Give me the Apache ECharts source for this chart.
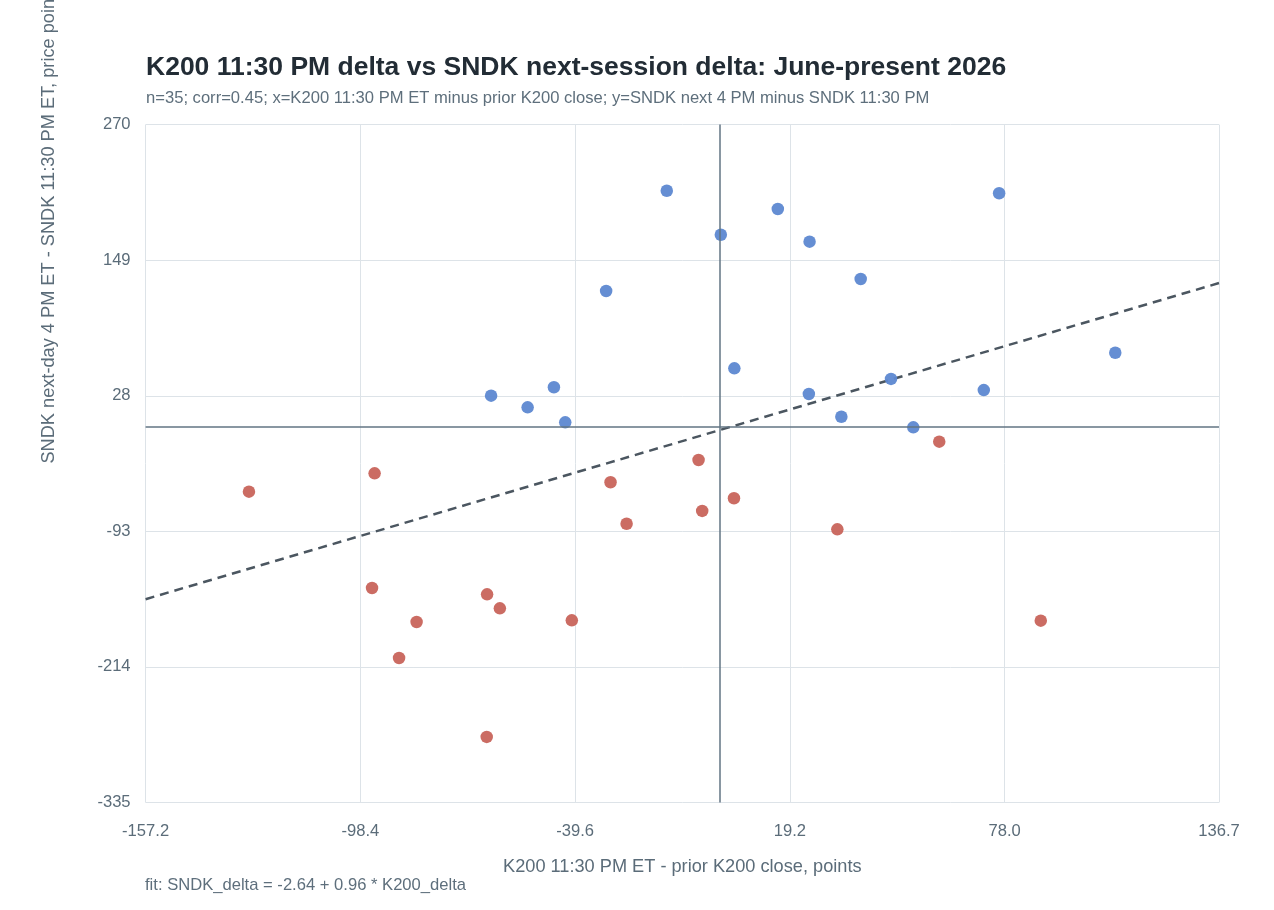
<!DOCTYPE html>
<html>
<head>
<meta charset="utf-8">
<script src="https://cdn.jsdelivr.net/npm/echarts@6/dist/echarts.min.js"></script>
<style>
html,body{margin:0;padding:0;background:#fff;}
#chart{width:1274px;height:910px;}
</style>
</head>
<body>
<div id="chart"></div>
<script>
// ---- data ----
const titleText = 'K200 11:30 PM delta vs SNDK next-session delta: June-present 2026';
const subText = 'n=35; corr=0.45; x=K200 11:30 PM ET minus prior K200 close; y=SNDK next 4 PM minus SNDK 11:30 PM';
const xName = 'K200 11:30 PM ET - prior K200 close, points';
const yName = 'SNDK next-day 4 PM ET - SNDK 11:30 PM ET, price points';
const fitText = 'fit: SNDK_delta = -2.64 + 0.96 * K200_delta';
const fitIntercept = -2.64;
const fitSlope = 0.96;
const xTicks = [-157.2, -98.4, -39.6, 19.2, 78.0, 136.7];
const yTicks = [-335, -214, -93, 28, 149, 270];

// positive SNDK next-session delta
const upX = [-14.5, 76.5, 15.9, 0.3, 24.6, 38.6, -31.1, 108.3, 4.0, 46.9, 72.3, -45.4, -62.6, 24.4, -52.6, 33.3, -42.3, 53.0];
const upY = [211, 208.7, 194.7, 171.7, 165.5, 132.2, 121.5, 66.4, 52.5, 43.0, 33.1, 35.6, 28.1, 29.6, 17.7, 9.3, 4.3, -0.2];
// negative SNDK next-session delta
const downX = [-128.9, -94.5, -29.9, -5.8, 3.9, -4.8, -25.5, -95.2, -63.7, -60.2, -83.0, -40.5, -87.8, -63.8, 60.1, 32.2, 87.9];
const downY = [-57.6, -41.2, -49.2, -29.3, -63.5, -74.8, -86.2, -143.6, -149.2, -161.7, -173.9, -172.4, -206, -276.5, -13.0, -91.2, -172.7];

const xMin = xTicks[0], xMax = xTicks[xTicks.length - 1];
const yMin = yTicks[0], yMax = yTicks[yTicks.length - 1];

const upData = upX.map((x, i) => [x, upY[i]]);
const downData = downX.map((x, i) => [x, downY[i]]);
const fitData = [[xMin, fitIntercept + fitSlope * xMin], [xMax, fitIntercept + fitSlope * xMax]];

const labelColor = '#5b6c79';
const gridColor = '#dde3e8';
const font = '"Liberation Sans", Arial, Helvetica, sans-serif';

const chart = echarts.init(document.getElementById('chart'));
chart.setOption({
  backgroundColor: '#ffffff',
  animation: false,
  textStyle: { fontFamily: font },
  title: {
    text: titleText,
    subtext: subText,
    left: 141,
    top: 49,
    itemGap: 9,
    textStyle: { fontSize: 26.5, fontWeight: 'bold', color: '#222c35', fontFamily: font },
    subtextStyle: { fontSize: 16.6, color: '#5e6f7c', fontFamily: font }
  },
  grid: { left: 145.6, right: 55, top: 124.6, bottom: 107.5, containLabel: false, outerBoundsMode: 'none' },
  xAxis: {
    type: 'value',
    min: xMin,
    max: xMax,
    name: xName,
    nameLocation: 'middle',
    nameGap: 55,
    nameTextStyle: { fontSize: 18.2, color: labelColor },
    axisLine: { show: false },
    axisTick: { show: false, customValues: xTicks },
    axisLabel: {
      customValues: xTicks,
      formatter: v => v.toFixed(1),
      fontSize: 16.6,
      color: labelColor,
      margin: 20
    },
    splitLine: { show: true, lineStyle: { color: gridColor, width: 1 } }
  },
  yAxis: {
    type: 'value',
    min: yMin,
    max: yMax,
    name: yName,
    nameLocation: 'middle',
    nameGap: 87.5,
    nameRotate: 90,
    nameTextStyle: { fontSize: 18.2, color: labelColor, align: 'left' },
    axisLine: { show: false },
    axisTick: { show: false, customValues: yTicks },
    axisLabel: {
      customValues: yTicks,
      fontSize: 16.6,
      color: labelColor,
      margin: 15
    },
    splitLine: { show: true, lineStyle: { color: gridColor, width: 1 } }
  },
  graphic: [{
    type: 'text',
    left: 145,
    top: 877,
    style: { text: fitText, fontSize: 16.6, fill: '#5e6f7c', fontFamily: font }
  }],
  series: [
    {
      name: 'frame',
      type: 'line',
      data: [],
      silent: true,
      markLine: {
        symbol: 'none',
        silent: true,
        label: { show: false },
        lineStyle: { color: '#627483', width: 1.5, type: 'solid' },
        data: [{ xAxis: 0 }, { yAxis: 0 }]
      }
    },
    {
      name: 'fit',
      type: 'line',
      data: fitData,
      symbol: 'none',
      silent: true,
      lineStyle: { color: '#4b5660', width: 2.5, type: [9, 6] },
      z: 3
    },
    {
      name: 'up',
      type: 'scatter',
      data: upData,
      symbolSize: 12.5,
      itemStyle: { color: '#5d88d1', opacity: 0.95 },
      z: 4
    },
    {
      name: 'down',
      type: 'scatter',
      data: downData,
      symbolSize: 12.5,
      itemStyle: { color: '#c8645b', opacity: 0.95 },
      z: 4
    }
  ]
});
</script>
</body>
</html>
